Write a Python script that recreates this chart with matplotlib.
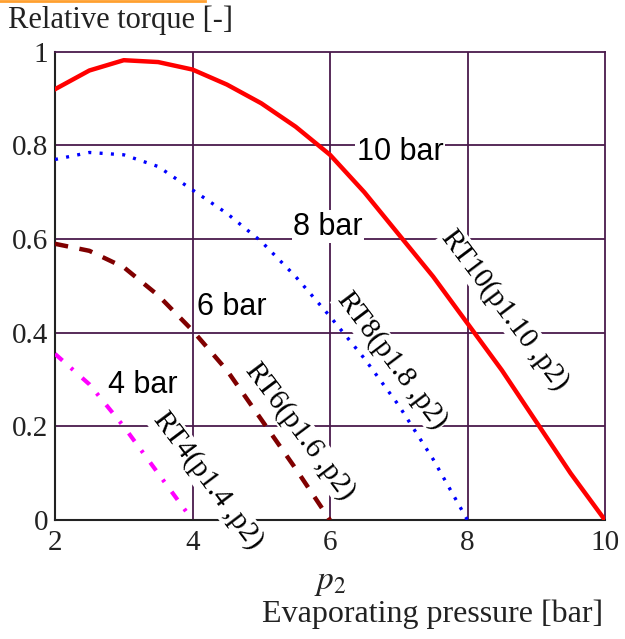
import matplotlib
matplotlib.use("Agg")
import matplotlib.pyplot as plt

# values
p2_10 = [2, 2.5, 3, 3.5, 4, 4.5, 5, 5.5, 6, 6.5, 7, 7.5, 8, 8.5, 9, 9.5, 10]
rt10 = [0.92, 0.96, 0.982, 0.978, 0.962, 0.93, 0.89, 0.84, 0.78, 0.70, 0.61, 0.52, 0.42, 0.32, 0.21, 0.10, 0.0]
p2_8 = [2, 2.5, 3, 3.5, 4, 4.5, 5, 5.5, 6, 6.5, 7, 7.5, 8]
rt8 = [0.77, 0.785, 0.78, 0.755, 0.705, 0.655, 0.595, 0.52, 0.435, 0.345, 0.245, 0.13, 0.0]
p2_6 = [2, 2.5, 3, 3.5, 4, 4.5, 5, 5.5, 6]
rt6 = [0.59, 0.575, 0.54, 0.48, 0.405, 0.32, 0.215, 0.11, 0.0]
p2_4 = [2, 2.5, 3, 3.5, 4]
rt4 = [0.355, 0.29, 0.2, 0.1, 0.0]

xticks = [2, 4, 6, 8, 10]
yticks = [0, 0.2, 0.4, 0.6, 0.8, 1]
ytick_labels = ["0", "0.2", "0.4", "0.6", "0.8", "1"]

serif = "Liberation Serif"
sans = "Liberation Sans"
grid_col = "#4a1a4c"
plt.rcParams["mathtext.fontset"] = "stix"

fig = plt.figure(figsize=(6.25, 6.39), dpi=100)
ax = fig.add_axes([0.088, 0.186, 0.88, 0.733])

for v in xticks[1:-1]:
    ax.axvline(v, color=grid_col, lw=1.3, zorder=1)
for v in yticks[1:-1]:
    ax.axhline(v, color=grid_col, lw=1.3, zorder=1)

ax.plot(p2_10, rt10, color="#ff0000", lw=3.2, zorder=3)
ax.plot(p2_8, rt8, color="#0000ff", lw=2.4, ls=(0, (0.9, 2.5)), dash_capstyle="butt", zorder=3)
ax.plot(p2_6, rt6, color="#800000", lw=3.2, ls=(0, (3.0, 2.6)), zorder=3)
ax.plot(p2_4, rt4, color="#ff00ff", lw=3.0, ls=(0, (2.4, 2.7, 0.7, 2.9)), zorder=3)

box = dict(facecolor="white", edgecolor="none", pad=1)
for x, y, s in [(7.02, 0.786, "10 bar"), (5.97, 0.626, "8 bar"), (4.57, 0.455, "6 bar"), (3.28, 0.288, "4 bar")]:
    ax.text(x, y, s, family=sans, fontsize=22, ha="center", va="center", bbox=box, zorder=4)

rot = -53
for x, y, s in [(8.55, 0.449, "RT10(p1.10 ,p2)"), (6.9, 0.342, "RT8(p1.8 ,p2)"),
                (5.56, 0.19, "RT6(p1.6 ,p2)"), (4.22, 0.085, "RT4(p1.4 ,p2)")]:
    ax.text(x, y, s, family=serif, fontsize=21, rotation=rot, ha="center", va="center",
            rotation_mode="anchor", bbox=box, zorder=4)

ax.set_xlim(2, 10)
ax.set_ylim(0, 1)
ax.set_xticks(xticks)
ax.set_xticklabels([str(t) for t in xticks], family=serif, fontsize=21, color="#222222")
ax.set_yticks(yticks)
ax.set_yticklabels(ytick_labels, family=serif, fontsize=21, color="#222222")
ax.tick_params(axis="x", length=0, pad=7)
ax.tick_params(axis="y", length=0, pad=5)
for side in ["left", "bottom"]:
    ax.spines[side].set_color("#222222")
    ax.spines[side].set_linewidth(1.5)
for side in ["top", "right"]:
    ax.spines[side].set_color(grid_col)
    ax.spines[side].set_linewidth(1.3)

fig.text(0.012, 0.968, "Relative torque [-]", family=serif, fontsize=22, va="center", color="#222222")
fig.text(0.528, 0.09, "$p_2$", fontsize=24, ha="center", va="center", color="#222222")
fig.text(0.692, 0.038, "Evaporating pressure [bar]", family=serif, fontsize=23, ha="center", va="center", color="#222222")
fig.add_artist(plt.Line2D([0, 0.328], [0.999, 0.999], color="#ffa030", lw=2, transform=fig.transFigure))

fig.savefig("out.png", dpi=100)
